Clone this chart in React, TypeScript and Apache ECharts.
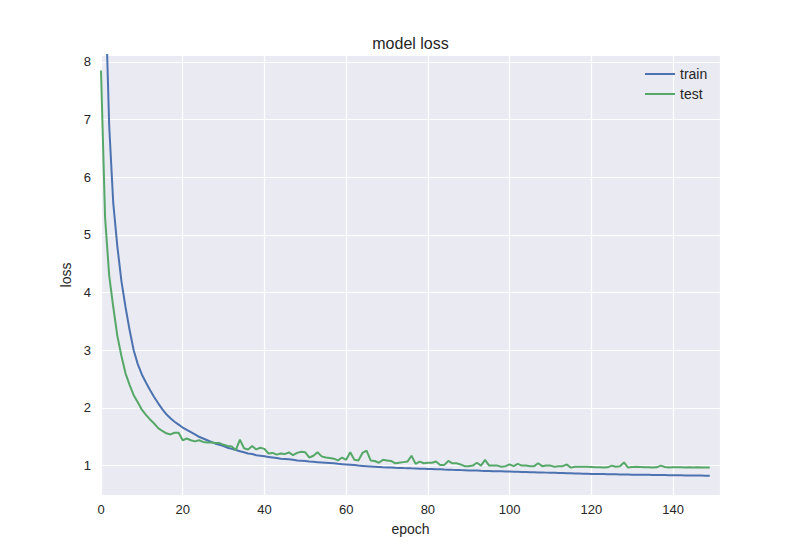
import React, { useEffect, useRef } from "react";
import * as echarts from "echarts";

const trainLoss: number[] = [
  12.5, 9.4, 6.9, 5.55, 4.8, 4.2, 3.75, 3.35, 3.0, 2.76,
  2.58, 2.44, 2.31, 2.19, 2.08, 1.98, 1.89, 1.82, 1.76, 1.71,
  1.66, 1.62, 1.58, 1.54, 1.5, 1.47, 1.44, 1.41, 1.38, 1.36,
  1.34, 1.31, 1.29, 1.27, 1.25, 1.23, 1.21, 1.2, 1.18, 1.17,
  1.16, 1.15, 1.14, 1.13, 1.12, 1.115, 1.11, 1.1, 1.09, 1.085,
  1.08, 1.07, 1.065, 1.06, 1.055, 1.05, 1.045, 1.04, 1.03, 1.025,
  1.02, 1.015, 1.01, 1.0, 0.995, 0.99, 0.985, 0.98, 0.975, 0.97,
  0.968, 0.965, 0.962, 0.96, 0.957, 0.955, 0.952, 0.95, 0.947, 0.945,
  0.942, 0.94, 0.937, 0.935, 0.932, 0.93, 0.927, 0.925, 0.922, 0.92,
  0.917, 0.915, 0.913, 0.91, 0.908, 0.906, 0.904, 0.902, 0.9, 0.898,
  0.896, 0.894, 0.892, 0.89, 0.888, 0.886, 0.884, 0.882, 0.88, 0.878,
  0.876, 0.874, 0.872, 0.87, 0.868, 0.866, 0.864, 0.862, 0.86, 0.858,
  0.856, 0.855, 0.853, 0.852, 0.85, 0.849, 0.848, 0.846, 0.845, 0.844,
  0.843, 0.842, 0.841, 0.84, 0.839, 0.838, 0.837, 0.836, 0.835, 0.834,
  0.833, 0.832, 0.831, 0.83, 0.829, 0.828, 0.827, 0.826, 0.825, 0.824,
];

const testLoss: number[] = [
  7.85, 5.3, 4.3, 3.75, 3.25, 2.9, 2.6, 2.4, 2.22, 2.1,
  1.97, 1.88, 1.8, 1.73, 1.65, 1.6, 1.56, 1.54, 1.57, 1.57,
  1.44, 1.47, 1.44, 1.42, 1.44, 1.41, 1.4, 1.4, 1.39, 1.39,
  1.36, 1.34, 1.33, 1.27, 1.45, 1.3, 1.28, 1.34, 1.28, 1.31,
  1.29, 1.21, 1.22, 1.19, 1.21, 1.2, 1.23, 1.18, 1.22, 1.24,
  1.23, 1.14, 1.17, 1.23, 1.16, 1.14, 1.13, 1.12, 1.09, 1.14,
  1.1, 1.23, 1.1, 1.09, 1.22, 1.26, 1.09, 1.08, 1.05, 1.1,
  1.09, 1.08, 1.04, 1.05, 1.06, 1.07, 1.17, 1.03, 1.07, 1.04,
  1.05, 1.05, 1.07, 1.01, 1.01, 1.08, 1.04, 1.04, 1.02, 0.99,
  0.99, 1.0, 1.05, 1.0, 1.1, 1.0, 1.0, 1.0, 0.98, 0.99,
  1.02, 0.99, 1.03, 1.0, 1.0, 0.99, 0.99, 1.04, 0.99, 1.0,
  1.0, 0.98, 0.99, 0.99, 1.02, 0.965, 0.98, 0.98, 0.98, 0.98,
  0.975, 0.97, 0.97, 0.965, 0.97, 1.0, 0.98, 0.99, 1.055, 0.965,
  0.975, 0.98, 0.975, 0.97, 0.97, 0.965, 0.97, 1.0, 0.975, 0.965,
  0.97, 0.97, 0.97, 0.965, 0.97, 0.965, 0.97, 0.968, 0.965, 0.965,
];

const epochs: number[] = trainLoss.map((_, i) => i);

const FONT = "'Liberation Sans', Arial, sans-serif";
const TEXT = "#262626";

export default function App() {
  const ref = useRef<HTMLDivElement>(null);

  useEffect(() => {
    if (!ref.current) return;
    const chart = echarts.init(ref.current, undefined, { renderer: "svg" });
    chart.setOption({
      animation: false,
      backgroundColor: "#ffffff",
      title: {
        text: "model loss",
        left: 405.5,
        textAlign: "center",
        top: 30,
        textStyle: { fontFamily: FONT, fontSize: 16, fontWeight: "normal", color: TEXT },
      },
      legend: {
        orient: "vertical",
        left: 640,
        top: 62,
        itemWidth: 30,
        itemHeight: 2,
        itemGap: 6,
        icon: "rect",
        textStyle: { fontFamily: FONT, fontSize: 14, color: TEXT },
        data: ["train", "test"],
      },
      grid: {
        left: 101,
        right: 80,
        top: 55,
        bottom: 55,
        show: true,
        backgroundColor: "#EAEAF2",
        borderWidth: 0,
      },
      xAxis: {
        type: "value",
        min: 0,
        max: 151.5,
        minInterval: 20,
        maxInterval: 20,
        name: "epoch",
        nameLocation: "middle",
        nameGap: 27,
        nameTextStyle: { fontFamily: FONT, fontSize: 14, color: TEXT },
        axisLine: { show: false },
        axisTick: { show: false },
        axisLabel: {
          fontFamily: FONT,
          fontSize: 13,
          color: TEXT,
          margin: 8,
          showMaxLabel: false,
          formatter: (v: number) => (v % 20 === 0 ? String(v) : ""),
        },
        splitLine: { show: true, lineStyle: { color: "#ffffff", width: 1.2 } },
      },
      yAxis: {
        type: "value",
        min: 0.49,
        max: 8.12,
        minInterval: 1,
        maxInterval: 1,
        name: "loss",
        nameLocation: "middle",
        nameGap: 27,
        nameTextStyle: { fontFamily: FONT, fontSize: 14, color: TEXT },
        axisLine: { show: false },
        axisTick: { show: false },
        axisLabel: {
          fontFamily: FONT,
          fontSize: 13,
          color: TEXT,
          margin: 10,
          showMinLabel: false,
          showMaxLabel: false,
          formatter: (v: number) => (Math.abs(v - Math.round(v)) < 1e-6 ? String(Math.round(v)) : ""),
        },
        splitLine: { show: true, lineStyle: { color: "#ffffff", width: 1.2 } },
      },
      series: [
        {
          name: "train",
          type: "line",
          data: epochs.map((e, i) => [e, trainLoss[i]]),
          showSymbol: false,
          symbol: "none",
          color: "#4C72B0",
          lineStyle: { color: "#4C72B0", width: 2 },
          clip: true,
        },
        {
          name: "test",
          type: "line",
          data: epochs.map((e, i) => [e, testLoss[i]]),
          showSymbol: false,
          symbol: "none",
          color: "#55A868",
          lineStyle: { color: "#55A868", width: 2 },
          clip: true,
        },
      ],
    });
    return () => chart.dispose();
  }, []);

  return (
    <div
      ref={ref}
      style={{ position: "fixed", left: 0, top: 0, width: 800, height: 550 }}
    />
  );
}
